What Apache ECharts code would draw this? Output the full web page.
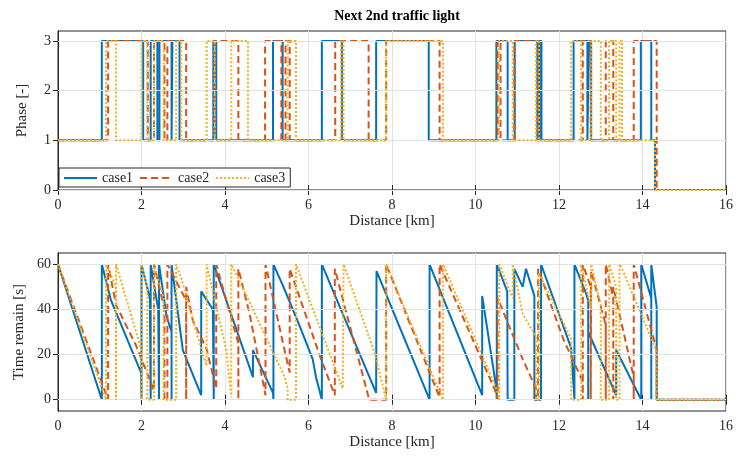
<!DOCTYPE html>
<html><head><meta charset="utf-8">
<script src="https://cdn.jsdelivr.net/npm/echarts@6/dist/echarts.min.js"></script>
<style>html,body{margin:0;padding:0;background:#fff}#c{width:743px;height:460px}</style>
</head><body><div id="c"></div>
<script>
// ---- data ----
const seriesNames = ['case1', 'case2', 'case3'];
const distTicks = [0, 2, 4, 6, 8, 10, 12, 14, 16];
const phaseTicks = [0, 1, 2, 3];
const timeTicks = [0, 20, 40, 60];

// phase: [distance km, phase] - value held until next point
const case1Phase = [[0,1],[1.05,3],[2.04,1],[2.22,3],[2.38,1],[2.43,3],[2.72,1],[2.74,3],[2.91,1],[3.72,3],[3.79,1],[5.15,3],[5.38,1],[6.32,3],[6.8,1],[7.62,3],[8.88,1],[10.5,3],[10.77,1],[10.94,3],[11.48,1],[11.53,3],[11.58,1],[12.35,3],[12.68,1],[12.72,3],[12.77,1],[13.96,3],[14.21,1],[14.3,0],[16,0]];
const case2Phase = [[0,1],[1.2,3],[2.15,1],[2.3,3],[2.55,1],[2.62,3],[3.07,1],[3.75,3],[4.32,1],[4.96,3],[5.35,1],[5.45,3],[5.55,1],[6.64,3],[7.44,1],[7.86,3],[9.14,1],[10.53,3],[10.6,1],[10.93,3],[11.5,1],[12.57,3],[12.76,1],[13.12,3],[13.3,1],[13.79,3],[14.34,0],[16,0]];
const case3Phase = [[0,1],[1.15,3],[1.39,1],[2.0,3],[2.14,1],[2.3,3],[2.53,1],[2.83,3],[2.95,1],[3.56,3],[3.75,1],[4.15,3],[4.55,1],[5.5,3],[5.7,1],[6.78,3],[6.84,1],[7.86,3],[9.22,1],[10.57,3],[10.89,1],[11.45,3],[11.52,1],[12.29,3],[12.53,1],[12.77,3],[13.0,1],[13.2,3],[13.37,1],[13.45,3],[13.51,1],[14.3,0],[16,0]];

// time remaining: [distance km, seconds]
const case1Time = [[0,60],[1.05,0],[1.05,60],[1.27,44],[1.99,12],[2.0,0],[2.0,60],[2.2,45],[2.22,0],[2.22,60],[2.4,40],[2.42,0],[2.42,60],[2.6,37],[2.72,30],[2.72,0],[2.72,60],[2.99,22],[3.43,2],[3.43,48],[3.71,40],[3.73,0],[3.73,60],[4.67,10],[4.67,22],[5.15,3],[5.16,0],[5.16,60],[5.4,50],[5.78,33],[6.1,18],[6.18,10],[6.32,0],[6.32,60],[7.62,3],[7.63,57],[8.9,0],[8.9,60],[10.16,2],[10.16,46],[10.5,5],[10.51,0],[10.51,60],[10.76,48],[10.77,0],[10.93,0],[10.93,58],[11.13,50],[11.21,58],[11.41,46],[11.41,0],[11.57,0],[11.57,60],[12.29,23],[12.37,0],[12.37,60],[12.65,47],[12.7,44],[12.7,0],[12.7,30],[13.37,2],[13.37,22],[13.97,0],[13.97,60],[14.21,45],[14.21,0],[14.21,60],[14.34,41],[14.34,0],[16,0]];
const case2Time = [[0,60],[1.2,0],[1.2,60],[1.39,42],[1.87,24],[2.3,4],[2.3,60],[2.55,40],[2.55,0],[2.62,0],[2.62,60],[3.07,44],[3.07,0],[3.07,50],[3.23,35],[3.55,23],[3.79,5],[3.79,60],[4.32,25],[4.32,0],[4.32,58],[4.59,38],[4.97,2],[4.97,60],[5.45,20],[5.55,12],[5.55,58],[6.3,18],[6.63,2],[6.63,58],[7.44,1],[7.44,0],[7.86,0],[7.86,60],[9.14,1],[9.14,60],[10.45,5],[10.53,0],[10.53,45],[11.13,18],[11.45,5],[11.45,0],[11.5,0],[11.5,58],[12.1,27],[12.57,8],[12.57,0],[12.57,60],[12.76,50],[12.76,0],[12.77,57],[13.05,38],[13.12,33],[13.12,0],[13.12,60],[13.3,45],[13.3,0],[13.3,50],[13.79,10],[13.79,0],[13.79,60],[14.34,22],[14.34,0],[16,0]];
const case3Time = [[0,60],[1.15,0],[1.15,60],[1.39,50],[1.39,0],[1.39,60],[2.0,22],[2.0,0],[2.0,60],[2.14,50],[2.14,0],[2.3,0],[2.3,60],[2.53,45],[2.53,0],[2.83,0],[2.83,60],[2.95,54],[3.47,20],[3.56,15],[3.56,60],[4.03,22],[4.15,1],[4.15,60],[4.57,44],[5.43,10],[5.5,5],[5.5,0],[5.7,0],[5.7,60],[6.82,5],[6.84,60],[7.58,21],[7.86,0],[7.86,60],[9.22,0],[9.22,60],[10.5,5],[10.57,0],[10.57,60],[10.89,45],[10.89,60],[11.13,38],[11.45,28],[11.45,0],[11.52,0],[11.52,56],[12.29,27],[12.29,0],[12.53,0],[12.53,60],[12.77,40],[12.77,60],[13.0,42],[13.0,0],[13.2,0],[13.2,60],[13.37,50],[13.37,0],[13.45,0],[13.45,60],[13.51,58],[14.33,22],[14.33,0],[16,0]];

// ---- style ----
const colors = ['#0072BD', '#D95319', '#EDB120'];
const dashes = ['solid', [7, 4], [2, 2]];
const FONT = 'Liberation Serif';
const axisColor = '#262626';
const gridColor = '#e3e3e3';

function xAx(gi, pos, labels) {
  const a = {
    type: 'value', gridIndex: gi, position: pos, min: 0, max: 16, interval: 2,
    axisLine: { show: true, lineStyle: { color: axisColor, width: 1 } },
    axisTick: { show: true, inside: true, length: 5, lineStyle: { color: axisColor } },
    axisLabel: { show: labels, margin: 8, fontFamily: FONT, fontSize: 14, color: axisColor },
    splitLine: { show: labels, lineStyle: { color: gridColor, width: 1 } }
  };
  if (labels) {
    a.name = 'Distance [km]'; a.nameLocation = 'middle'; a.nameGap = 24;
    a.nameTextStyle = { fontFamily: FONT, fontSize: 15, color: axisColor };
  }
  return a;
}
function yAx(gi, pos, labels, min, max, ticks, name, gap) {
  const a = {
    type: 'value', gridIndex: gi, position: pos, min: min, max: max,
    axisLine: { show: true, lineStyle: { color: axisColor, width: 1 } },
    axisTick: { show: true, inside: true, length: 5, lineStyle: { color: axisColor }, customValues: ticks },
    axisLabel: { show: labels, margin: 7, fontFamily: FONT, fontSize: 14, color: axisColor, customValues: ticks },
    splitLine: { show: false }
  };
  if (labels) {
    a.name = name; a.nameLocation = 'middle'; a.nameGap = gap;
    a.nameTextStyle = { fontFamily: FONT, fontSize: 15, color: axisColor };
  }
  return a;
}

const phaseData = [case1Phase, case2Phase, case3Phase];
const timeData = [case1Time, case2Time, case3Time];
const series = [];
seriesNames.forEach((n, i) => {
  const s1 = {
    name: n, type: 'line', xAxisIndex: 0, yAxisIndex: 0, step: 'end',
    data: phaseData[i], showSymbol: false, symbol: 'none', animation: false, z: 3 + i,
    lineStyle: { color: colors[i], width: 2, type: dashes[i] }, itemStyle: { color: colors[i] }
  };
  const s2 = {
    name: n, type: 'line', xAxisIndex: 1, yAxisIndex: 1,
    data: timeData[i], showSymbol: false, symbol: 'none', animation: false, z: 3 + i,
    lineStyle: { color: colors[i], width: 2, type: dashes[i] }, itemStyle: { color: colors[i] }
  };
  if (i === 0) {
    s1.markLine = { silent: true, symbol: 'none', label: { show: false }, animation: false,
      lineStyle: { color: gridColor, width: 1, type: 'solid' }, data: phaseTicks.map(v => ({ yAxis: v })) };
    s2.markLine = { silent: true, symbol: 'none', label: { show: false }, animation: false,
      lineStyle: { color: gridColor, width: 1, type: 'solid' }, data: timeTicks.map(v => ({ yAxis: v })) };
  }
  series.push(s1, s2);
});

const chart = echarts.init(document.getElementById('c'), null, { renderer: 'canvas' });
chart.setOption({
  backgroundColor: '#ffffff',
  animation: false,
  title: { text: 'Next 2nd traffic light', left: 392, top: 4, textAlign: 'center',
    textStyle: { fontFamily: FONT, fontSize: 14, fontWeight: 'bold', color: '#000' } },
  legend: {
    data: seriesNames, left: 59, top: 168, orient: 'horizontal',
    backgroundColor: '#fff', borderColor: axisColor, borderWidth: 1, borderRadius: 0,
    padding: [3, 5, 2, 4], itemGap: 6, itemWidth: 33, itemHeight: 10,
    itemStyle: { opacity: 0 },
    textStyle: { fontFamily: FONT, fontSize: 14, color: axisColor }
  },
  grid: [
    { left: 58, right: 17, top: 31, height: 159, show: true, borderColor: axisColor, borderWidth: 1, backgroundColor: '#fff' },
    { left: 58, right: 17, top: 253, height: 158, show: true, borderColor: axisColor, borderWidth: 1, backgroundColor: '#fff' }
  ],
  xAxis: [xAx(0, 'bottom', true), xAx(1, 'bottom', true), xAx(0, 'top', false), xAx(1, 'top', false)],
  yAxis: [
    yAx(0, 'left', true, 0, 3.2, phaseTicks, 'Phase [-]', 28),
    yAx(1, 'left', true, -5, 65, timeTicks, 'Time remain [s]', 31),
    yAx(0, 'right', false, 0, 3.2, phaseTicks, '', 0),
    yAx(1, 'right', false, -5, 65, timeTicks, '', 0)
  ],
  series: series
});
</script></body></html>
